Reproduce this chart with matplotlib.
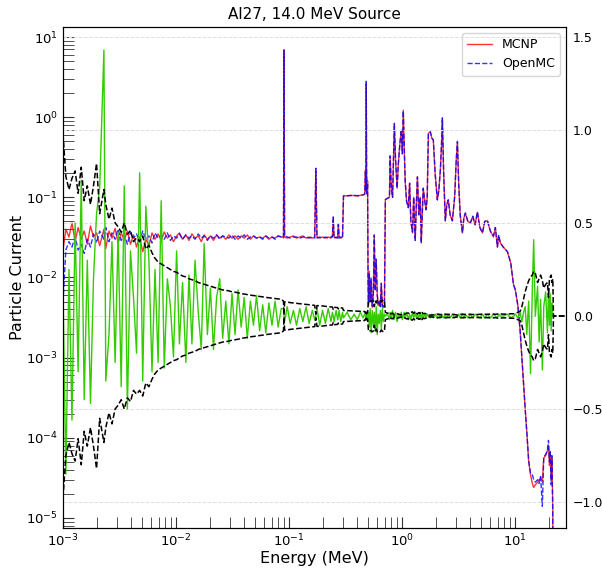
import numpy as np
import matplotlib
matplotlib.use("Agg")
import matplotlib.pyplot as plt

# energy grid (MeV)
energy = [
    # low energy, noisy region
    1.00e-3, 1.06e-3, 1.13e-3, 1.20e-3, 1.28e-3, 1.36e-3, 1.45e-3, 1.54e-3,
    1.64e-3, 1.75e-3, 1.86e-3, 1.98e-3, 2.11e-3, 2.30e-3, 2.39e-3, 2.55e-3,
    2.71e-3, 2.89e-3, 3.07e-3, 3.27e-3, 3.48e-3, 3.71e-3, 3.95e-3, 4.20e-3,
    4.47e-3, 4.76e-3, 5.07e-3, 5.40e-3, 5.75e-3, 6.12e-3, 6.51e-3, 6.93e-3,
    7.38e-3, 7.86e-3, 8.37e-3, 8.91e-3, 9.48e-3, 1.01e-2, 1.07e-2, 1.14e-2,
    1.22e-2, 1.30e-2, 1.38e-2, 1.47e-2, 1.57e-2, 1.67e-2, 1.77e-2, 1.89e-2,
    2.01e-2, 2.14e-2, 2.28e-2, 2.43e-2, 2.58e-2, 2.75e-2, 2.93e-2, 3.12e-2,
    3.32e-2, 3.53e-2, 3.76e-2, 4.00e-2, 4.26e-2, 4.54e-2, 4.83e-2, 5.14e-2,
    5.48e-2, 5.83e-2, 6.21e-2, 6.61e-2, 7.04e-2, 7.50e-2, 7.98e-2, 8.50e-2,
    # flat region with lines
    8.90e-2, 9.00e-2, 9.10e-2, 9.60e-2, 1.02e-1, 1.09e-1, 1.16e-1, 1.24e-1,
    1.32e-1, 1.41e-1, 1.50e-1, 1.60e-1, 1.68e-1, 1.72e-1, 1.76e-1, 1.86e-1,
    1.97e-1, 2.09e-1, 2.21e-1, 2.34e-1, 2.41e-1, 2.45e-1, 2.49e-1, 2.60e-1,
    2.68e-1, 2.72e-1, 2.76e-1, 2.86e-1, 2.96e-1, 3.02e-1, 3.25e-1, 3.50e-1,
    3.75e-1, 4.00e-1, 4.25e-1, 4.50e-1, 4.65e-1, 4.72e-1, 4.77e-1, 4.80e-1,
    4.83e-1, 4.88e-1, 4.93e-1, 4.98e-1,
    # dip 0.5 - 0.7 MeV
    5.02e-1, 5.10e-1, 5.20e-1, 5.30e-1, 5.42e-1, 5.54e-1, 5.65e-1, 5.76e-1,
    5.88e-1, 6.00e-1, 6.12e-1, 6.25e-1, 6.40e-1, 6.52e-1, 6.66e-1, 6.80e-1,
    6.95e-1, 7.08e-1,
    # high energy
    0.74, 0.77, 0.78, 0.80, 0.82, 0.84, 0.85, 0.87,
    0.90, 0.92, 0.95, 0.98, 1.00, 1.02, 1.04, 1.06,
    1.09, 1.13, 1.16, 1.19, 1.23, 1.26, 1.30, 1.33,
    1.36, 1.40, 1.44, 1.47, 1.50, 1.53, 1.58, 1.62,
    1.66, 1.70, 1.77, 1.82, 1.88, 1.95, 2.04, 2.10,
    2.17, 2.22, 2.26, 2.32, 2.40, 2.47, 2.55, 2.65,
    2.77, 2.90, 3.00, 3.07, 3.15, 3.25, 3.40, 3.50,
    3.61, 3.80, 4.00, 4.20, 4.40, 4.61, 4.85, 5.11,
    5.35, 5.65, 6.00, 6.39, 6.65, 6.93, 7.10, 7.36,
    7.80, 8.50, 9.10, 9.60, 10.0, 10.5, 11.0, 11.4,
    11.8, 12.2, 12.6, 13.1, 13.6, 14.1, 14.5, 15.0,
    15.7, 16.2, 16.7, 17.3, 17.8, 18.5, 19.2, 19.6,
    20.0, 20.3, 20.7, 21.0, 21.4, 21.7, 25.0, 30.0,
]

mcnp = [
    0.022, 0.040, 0.032, 0.048, 0.028, 0.042, 0.030, 0.038,
    0.026, 0.044, 0.032, 0.036, 0.025, 0.040, 0.023, 0.038,
    0.031, 0.041, 0.027, 0.036, 0.029, 0.038, 0.026, 0.034,
    0.024, 0.032, 0.021, 0.030, 0.025, 0.036, 0.030, 0.035,
    0.029, 0.037, 0.031, 0.034, 0.028, 0.033, 0.036, 0.030,
    0.034, 0.029, 0.035, 0.031, 0.033, 0.028, 0.034, 0.030,
    0.033, 0.029, 0.034, 0.031, 0.033, 0.030, 0.034, 0.031,
    0.033, 0.030, 0.033, 0.031, 0.034, 0.030, 0.033, 0.031,
    0.032, 0.031, 0.033, 0.030, 0.032, 0.031, 0.033, 0.032,
    0.032, 6.9, 0.032, 0.031, 0.032, 0.033, 0.031, 0.032,
    0.033, 0.031, 0.032, 0.031, 0.032, 0.23, 0.032, 0.031,
    0.032, 0.031, 0.032, 0.031, 0.033, 0.056, 0.032, 0.031,
    0.032, 0.047, 0.032, 0.031, 0.032, 0.105, 0.104, 0.106,
    0.105, 0.104, 0.106, 0.108, 0.110, 0.22, 0.12, 2.7,
    0.20, 0.11, 0.16, 0.008,
    0.0045, 0.012, 0.005, 0.009, 0.0042, 0.006, 0.033, 0.007,
    0.016, 0.0063, 0.0045, 0.005, 0.0043, 0.0083, 0.0045, 0.0042,
    0.0045, 0.093,
    0.098, 0.10, 0.32, 0.13, 0.10, 0.40, 0.84, 0.30,
    0.13, 0.25, 0.45, 0.69, 0.35, 1.22, 0.40, 0.16,
    0.09, 0.075, 0.15, 0.05, 0.036, 0.10, 0.029, 0.08,
    0.18, 0.06, 0.10, 0.027, 0.06, 0.13, 0.09, 0.07,
    0.10, 0.63, 0.65, 0.55, 0.52, 0.20, 0.093, 0.12,
    0.22, 0.45, 0.97, 0.20, 0.051, 0.08, 0.093, 0.06,
    0.051, 0.10, 0.30, 0.49, 0.15, 0.06, 0.036, 0.055,
    0.063, 0.05, 0.048, 0.058, 0.045, 0.065, 0.042, 0.036,
    0.05, 0.051, 0.038, 0.032, 0.042, 0.024, 0.033, 0.027,
    0.024, 0.021, 0.015, 0.0083, 0.0069, 0.0045, 0.0022, 0.0010,
    4.7e-4, 2.3e-4, 1.2e-4, 5.0e-5, 3.5e-5, 2.7e-5, 2.4e-5, 2.6e-5,
    2.8e-5, 3.0e-5, 3.2e-5, 2.8e-5, 5.6e-5, 6.0e-5, 6.9e-5, 8.0e-5,
    4.5e-5, 6.5e-5, 3.0e-5, 5.6e-5, 1.5e-5, 0.0, 0.0, 0.0,
]

openmc = [
    0.005, 0.022, 0.028, 0.024, 0.032, 0.022, 0.026, 0.020,
    0.030, 0.024, 0.035, 0.027, 0.038, 0.030, 0.042, 0.028,
    0.036, 0.030, 0.040, 0.029, 0.034, 0.026, 0.037, 0.031,
    0.035, 0.028, 0.038, 0.030, 0.033, 0.027, 0.036, 0.031,
    0.034, 0.030, 0.036, 0.029, 0.033, 0.031, 0.035, 0.030,
    0.034, 0.031, 0.033, 0.030, 0.035, 0.031, 0.033, 0.029,
    0.033, 0.031, 0.034, 0.030, 0.033, 0.032, 0.031, 0.034,
    0.030, 0.033, 0.031, 0.034, 0.030, 0.032, 0.033, 0.031,
    0.032, 0.030, 0.033, 0.031, 0.032, 0.030, 0.033, 0.032,
    0.031, 6.9, 0.033, 0.032, 0.031, 0.032, 0.032, 0.031,
    0.032, 0.032, 0.031, 0.032, 0.031, 0.23, 0.031, 0.032,
    0.031, 0.032, 0.031, 0.032, 0.032, 0.057, 0.031, 0.032,
    0.031, 0.046, 0.031, 0.032, 0.031, 0.104, 0.105, 0.105,
    0.106, 0.105, 0.105, 0.107, 0.110, 0.21, 0.12, 2.8,
    0.21, 0.11, 0.15, 0.0085,
    0.0048, 0.011, 0.0052, 0.010, 0.0044, 0.0058, 0.034, 0.0068,
    0.017, 0.0060, 0.0047, 0.0052, 0.0042, 0.0085, 0.0043, 0.0044,
    0.0046, 0.094,
    0.097, 0.10, 0.33, 0.13, 0.10, 0.41, 0.83, 0.31,
    0.13, 0.25, 0.46, 0.70, 0.35, 1.20, 0.41, 0.16,
    0.09, 0.074, 0.15, 0.05, 0.037, 0.10, 0.029, 0.081,
    0.18, 0.061, 0.10, 0.027, 0.06, 0.13, 0.09, 0.07,
    0.10, 0.63, 0.66, 0.55, 0.52, 0.20, 0.093, 0.12,
    0.22, 0.45, 0.98, 0.20, 0.051, 0.08, 0.093, 0.06,
    0.051, 0.10, 0.30, 0.50, 0.15, 0.06, 0.036, 0.056,
    0.064, 0.05, 0.048, 0.058, 0.046, 0.066, 0.042, 0.036,
    0.05, 0.052, 0.038, 0.033, 0.042, 0.024, 0.034, 0.027,
    0.024, 0.021, 0.015, 0.0083, 0.0069, 0.0045, 0.0022, 0.0010,
    4.8e-4, 2.3e-4, 1.2e-4, 5.2e-5, 3.6e-5, 3.5e-5, 3.0e-5, 2.8e-5,
    3.0e-5, 2.7e-5, 3.3e-5, 1.4e-5, 5.8e-5, 6.2e-5, 7.0e-5, 9.3e-5,
    5.0e-5, 7.0e-5, 2.6e-5, 6.0e-5, 1.0e-5, 0.0, 0.0, 0.0,
]

# relative difference (right axis)
rel_diff = [
    0.15, -0.85, 0.25, -0.56, 0.50, -0.30, 0.73, -0.45,
    0.30, -0.47, 0.20, 0.55, 0.69, 1.43, -0.35, -0.10,
    0.40, -0.25, 0.45, -0.38, 0.70, -0.50, 0.35, 0.10,
    -0.20, 0.77, -0.35, 0.59, 0.30, -0.30, 0.25, -0.25,
    0.62, -0.28, 0.20, 0.05, -0.22, 0.35, -0.15, 0.18,
    -0.25, 0.22, -0.15, 0.30, 0.02, -0.18, 0.39, -0.10,
    0.15, -0.18, 0.10, 0.20, -0.12, 0.08, -0.15, 0.12,
    -0.10, 0.14, -0.06, 0.10, -0.12, 0.08, -0.05, 0.11,
    -0.08, 0.06, -0.09, 0.07, -0.05, 0.08, -0.06, 0.04,
    0.04, 0.0, -0.03, 0.05, -0.04, 0.03, -0.05, 0.04,
    -0.03, 0.05, -0.04, 0.03, -0.02, 0.0, 0.04, -0.05,
    0.03, -0.04, 0.04, -0.03, 0.02, 0.0, -0.03, 0.03,
    -0.02, 0.0, 0.03, -0.03, 0.02, -0.01, 0.02, -0.02,
    0.01, -0.02, 0.02, -0.01, 0.01, 0.0, -0.01, 0.0,
    0.01, -0.01, 0.01, -0.02,
    0.02, -0.06, 0.04, -0.09, 0.03, -0.05, 0.02, -0.08,
    0.05, -0.10, 0.01, -0.04, 0.03, -0.07, 0.04, -0.03,
    0.01, 0.0,
    0.01, -0.02, 0.02, -0.01, 0.03, -0.02, 0.0, 0.02,
    -0.03, 0.01, -0.01, 0.02, -0.02, 0.0, 0.02, -0.01,
    0.02, -0.02, 0.01, -0.02, 0.02, -0.01, 0.02, -0.01,
    0.01, -0.01, 0.02, -0.02, 0.01, -0.01, 0.01, -0.01,
    0.01, 0.0, -0.01, 0.01, -0.01, 0.01, -0.01, 0.01,
    -0.01, 0.01, 0.0, -0.01, 0.01, -0.01, 0.01, -0.01,
    0.01, -0.01, 0.0, 0.0, 0.01, -0.01, 0.01, -0.01,
    0.01, -0.01, 0.01, -0.01, 0.01, 0.0, -0.01, 0.01,
    -0.01, 0.01, -0.01, 0.01, 0.0, -0.01, 0.01, 0.0,
    0.0, 0.01, -0.01, 0.0, 0.01, -0.01, 0.02, -0.03,
    0.02, 0.05, -0.10, 0.08, -0.31, 0.14, 0.41, 0.0,
    0.16, -0.14, 0.09, -0.29, 0.05, 0.13, -0.09, 0.15,
    -0.05, 0.12, -0.08, 0.07, 0.0, np.nan, np.nan, np.nan,
]

# relative uncertainty band (+/-)
rel_unc = [
    0.98, 0.75, 0.68, 0.74, 0.78, 0.66, 0.80, 0.62,
    0.70, 0.60, 0.70, 0.82, 0.55, 0.68, 0.60, 0.52,
    0.58, 0.50, 0.48, 0.45, 0.50, 0.44, 0.46, 0.40,
    0.42, 0.40, 0.43, 0.36, 0.38, 0.34, 0.31, 0.29,
    0.28, 0.27, 0.26, 0.25, 0.24, 0.235, 0.225, 0.215,
    0.21, 0.20, 0.195, 0.19, 0.18, 0.175, 0.17, 0.165,
    0.16, 0.155, 0.15, 0.145, 0.14, 0.138, 0.135, 0.13,
    0.128, 0.125, 0.12, 0.118, 0.115, 0.112, 0.11, 0.108,
    0.105, 0.103, 0.10, 0.098, 0.096, 0.094, 0.092, 0.09,
    0.08, 0.005, 0.075, 0.075, 0.072, 0.07, 0.068, 0.066,
    0.064, 0.062, 0.06, 0.058, 0.057, 0.01, 0.056, 0.055,
    0.054, 0.052, 0.05, 0.049, 0.048, 0.035, 0.047, 0.046,
    0.045, 0.038, 0.045, 0.044, 0.043, 0.03, 0.029, 0.028,
    0.027, 0.026, 0.025, 0.025, 0.024, 0.015, 0.02, 0.004,
    0.015, 0.02, 0.018, 0.05,
    0.08, 0.075, 0.08, 0.078, 0.085, 0.08, 0.05, 0.08,
    0.07, 0.085, 0.082, 0.08, 0.085, 0.075, 0.082, 0.085,
    0.08, 0.02,
    0.015, 0.015, 0.008, 0.014, 0.015, 0.008, 0.005, 0.009,
    0.013, 0.010, 0.008, 0.006, 0.009, 0.005, 0.008, 0.012,
    0.015, 0.016, 0.012, 0.020, 0.022, 0.014, 0.025, 0.016,
    0.011, 0.018, 0.014, 0.025, 0.018, 0.012, 0.014, 0.012,
    0.010, 0.005, 0.005, 0.005, 0.006, 0.008, 0.010, 0.009,
    0.008, 0.006, 0.004, 0.008, 0.010, 0.009, 0.008, 0.009,
    0.010, 0.008, 0.006, 0.005, 0.007, 0.009, 0.010, 0.009,
    0.008, 0.009, 0.009, 0.008, 0.009, 0.008, 0.009, 0.010,
    0.009, 0.009, 0.010, 0.010, 0.009, 0.011, 0.010, 0.011,
    0.010, 0.010, 0.012, 0.012, 0.014, 0.020, 0.025, 0.050,
    0.090, 0.130, 0.160, 0.190, 0.210, 0.220, 0.240, 0.230,
    0.180, 0.200, 0.220, 0.190, 0.150, 0.170, 0.180, 0.100,
    0.200, 0.210, 0.220, 0.180, 0.200, 0.0, 0.0, 0.0,
]

e = np.array(energy)
unc = np.array(rel_unc)

fig = plt.figure(figsize=(6.02, 5.72), dpi=100)
ax = fig.add_axes([63 / 602, 1 - 528 / 572, 503 / 602, 501 / 572])

ax.plot(e, mcnp, color='red', lw=1, alpha=0.8, label='MCNP')
ax.plot(e, openmc, color='blue', lw=1, ls='--', alpha=0.8, label='OpenMC')
ax.set_xscale('log')
ax.set_yscale('log')
ax.set_xlim(1e-3, 28)
ax.set_ylim(10 ** -5.125, 10 ** 1.125)
ax.set_xlabel('Energy (MeV)', fontsize=11.5, labelpad=1)
ax.set_ylabel('Particle Current', fontsize=11.5, labelpad=1)
ax.set_title('Al27, 14.0 MeV Source', fontsize=11)
ax.tick_params(which='both', direction='in', length=8, color='#333333', labelsize=9.5)
ax.legend(loc='upper right', fontsize=9)

ax2 = ax.twinx()
ax2.plot(e, rel_diff, color='#33cc00', lw=1)
ax2.plot(e, unc, color='black', lw=1.1, ls='--')
ax2.plot(e, -unc, color='black', lw=1.1, ls='--')
ax2.set_ylim(-1.14, 1.554)
ax2.set_yticks([-1.0, -0.5, 0.0, 0.5, 1.0, 1.5])
ax2.tick_params(length=0, pad=5, labelsize=9)
ax2.grid(axis='y', ls='--', color='#dddddd', lw=0.7)

fig.savefig('out.png', dpi=100)
